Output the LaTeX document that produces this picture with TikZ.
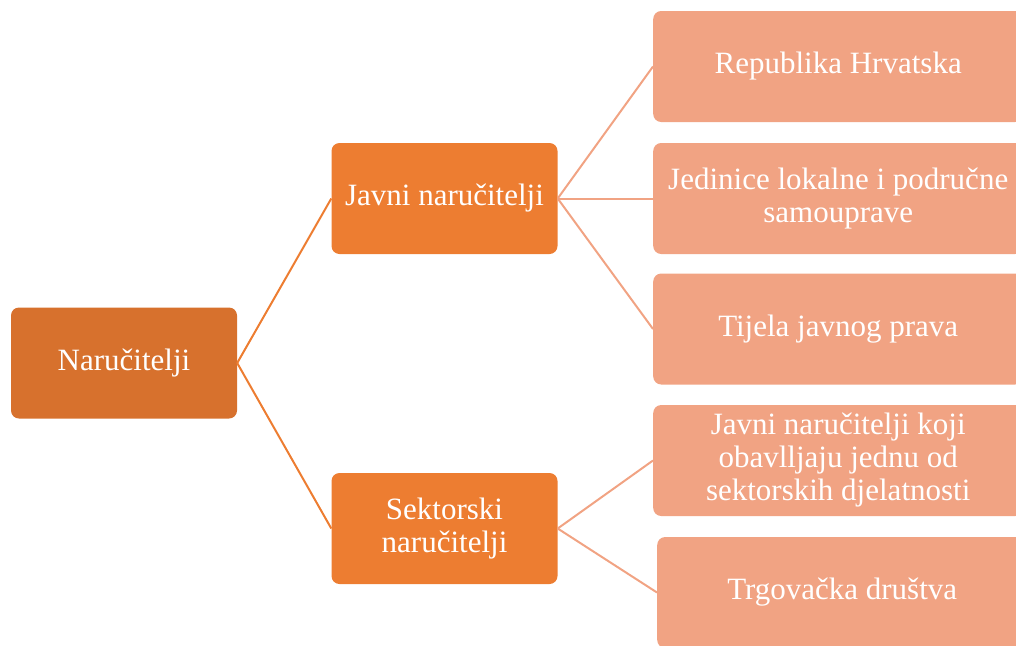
\documentclass[tikz,border=0pt]{standalone}
\usepackage{fontspec}
\setmainfont{Liberation Serif}
\usepackage{tikz}
\definecolor{tamnonar}{HTML}{D7712D}
\definecolor{narancasta}{HTML}{ED7D31}
\definecolor{svijetla}{HTML}{F1A383}
\tikzset{
	kutija/.style={rounded corners=8pt, text=white, align=center, inner sep=2pt,
		font=\fontsize{31}{33}\selectfont, minimum height=111pt},
	korijen/.style={kutija, fill=tamnonar, minimum width=226pt},
	grana/.style={kutija, fill=narancasta, minimum width=226pt},
	list/.style={kutija, fill=svijetla, minimum width=370pt, anchor=west},
	veza1/.style={draw=narancasta, line width=2pt},
	veza2/.style={draw=svijetla, line width=2pt}
}

\begin{document}
\begin{tikzpicture}[x=1pt, y=-1pt]
				\useasboundingbox (0,0) rectangle (1016,645);
				
				\node[korijen] (naru) at (124,363) {Naručitelji};
				\node[grana] (javni) at (444.5,198.5) {Javni naručitelji};
				\node[grana] (sektor) at (444.5,528.5) {Sektorski\\naručitelji};
				
				\node[list] (rh) at (653,66.5) {Republika Hrvatska};
				\node[list] (jls) at (653,198.5) {Jedinice lokalne i područne\\samouprave};
				\node[list] (tjp) at (653,329) {Tijela javnog prava};
				\node[list] (jnk) at (653,460.5) {Javni naručitelji koji\\obavlljaju jednu od\\sektorskih djelatnosti};
				\node[list] (trg) at (657,592.5) {Trgovačka društva};
				
				\draw[veza1] (naru.east) -- (javni.west);
				\draw[veza1] (naru.east) -- (sektor.west);
				
				\draw[veza2] (javni.east) -- (rh.west);
				\draw[veza2] (javni.east) -- (jls.west);
				\draw[veza2] (javni.east) -- (tjp.west);
				\draw[veza2] (sektor.east) -- (jnk.west);
				\draw[veza2] (sektor.east) -- (trg.west);
			\end{tikzpicture}
\end{document}
